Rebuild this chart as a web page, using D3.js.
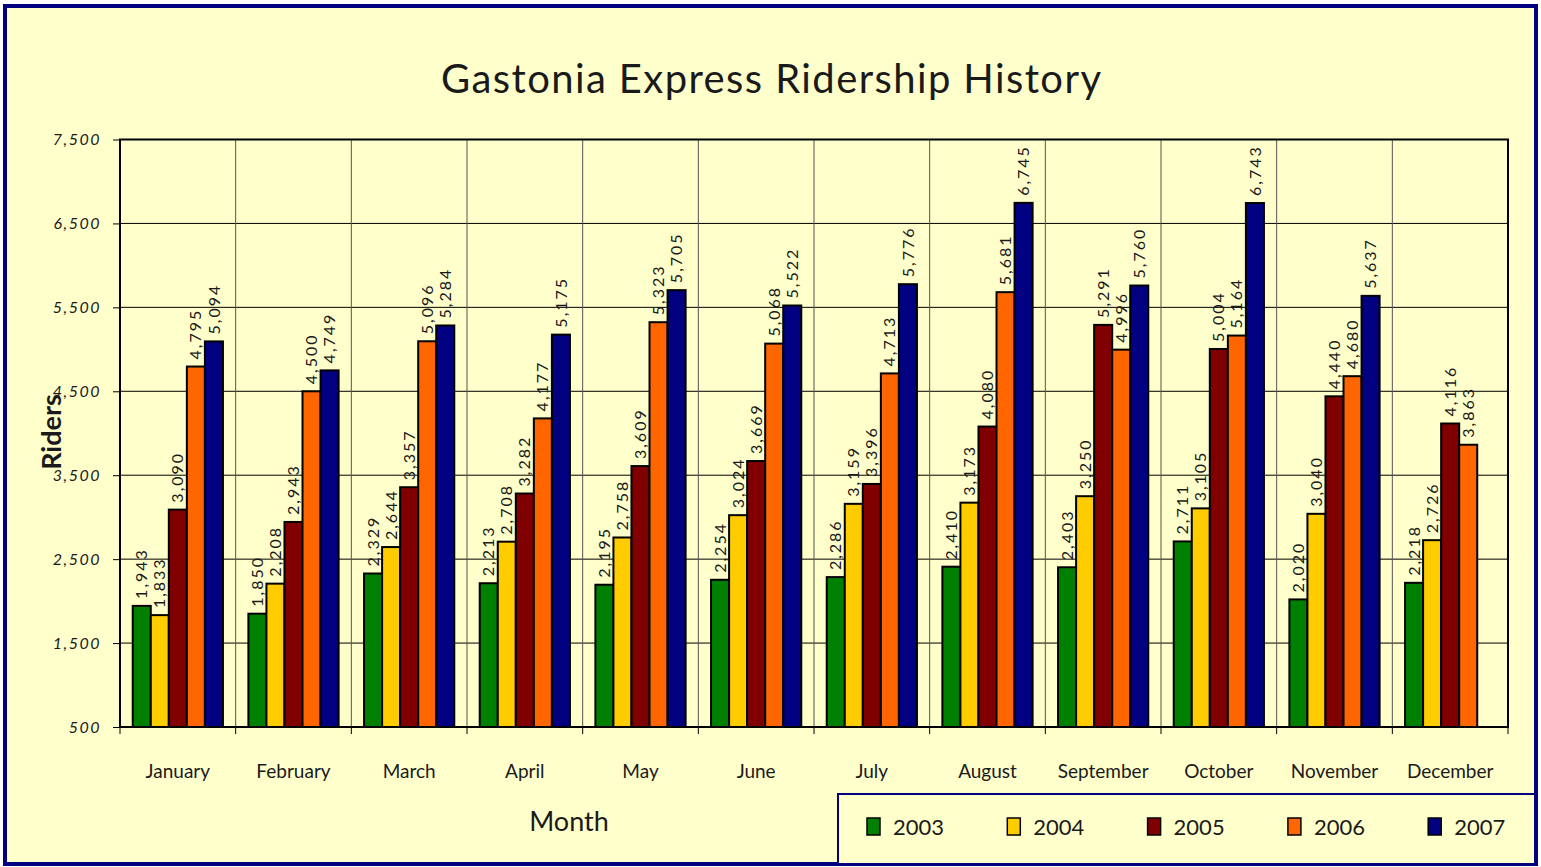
<!DOCTYPE html>
<html>
<head>
<meta charset="utf-8">
<script src="https://cdn.jsdelivr.net/npm/d3@7"></script>
<style>
  html, body { margin: 0; padding: 0; background: #ffffff; }
  svg { display: block; }
  text { font-family: Lato, "Open Sans", sans-serif; fill: #1a1a1a; }
</style>
</head>
<body>
<svg id="chart"></svg>
<script>
// DATA
const months = ["January", "February", "March", "April", "May", "June",
                "July", "August", "September", "October", "November", "December"];
const years = ["2003", "2004", "2005", "2006", "2007"];
const riders2003 = [1943, 1850, 2329, 2213, 2195, 2254, 2286, 2410, 2403, 2711, 2020, 2218];
const riders2004 = [1833, 2208, 2644, 2708, 2758, 3024, 3159, 3173, 3250, 3105, 3040, 2726];
const riders2005 = [3090, 2943, 3357, 3282, 3609, 3669, 3396, 4080, 5291, 5004, 4440, 4116];
const riders2006 = [4795, 4500, 5096, 4177, 5323, 5068, 4713, 5681, 4996, 5164, 4680, 3863];
const riders2007 = [5094, 4749, 5284, 5175, 5705, 5522, 5776, 6745, 5760, 6743, 5637, null];
const yTicks = [500, 1500, 2500, 3500, 4500, 5500, 6500, 7500];
const colors = ["#008000", "#ffcc00", "#800000", "#ff6600", "#000080"];

const series = [riders2003, riders2004, riders2005, riders2006, riders2007];

const W = 1541, H = 867;
const margin = { top: 139.5, right: 33, bottom: 140, left: 120 };
const width = 1508 - margin.left;
const height = 727 - margin.top;

const svg = d3.select('#chart').attr('width', W).attr('height', H);

// background + outer frame
svg.append('rect')
    .attr('x', 5).attr('y', 6).attr('width', 1531).attr('height', 858)
    .attr('fill', '#ffffcc').attr('stroke', '#000080').attr('stroke-width', 4);

// title
svg.append('text')
    .attr('x', 771).attr('y', 93)
    .attr('text-anchor', 'middle')
    .style('font-size', '40px')
    .attr('textLength', 660)
    .text('Gastonia Express Ridership History');

const g = svg.append('g')
    .attr('transform', `translate(${margin.left},${margin.top})`);

// SCALES
const x0 = d3.scaleBand()
    .domain(months)
    .range([0, width])
    .paddingInner(0.22)
    .paddingOuter(0.11);
const step = x0.step();

const x1 = d3.scaleBand()
    .domain(years)
    .range([0, x0.bandwidth()]);

const y = d3.scaleLinear()
    .domain([500, 7500])
    .range([height, 0]);

const color = d3.scaleOrdinal().domain(years).range(colors);

// horizontal gridlines
g.append('g')
    .selectAll('line')
    .data(yTicks)
    .enter().append('line')
    .attr('x1', 0).attr('x2', width)
    .attr('y1', d => y(d)).attr('y2', d => y(d))
    .attr('stroke', '#000').attr('stroke-width', 1);

// vertical category separators
g.append('g')
    .selectAll('line')
    .data(months.slice(1))
    .enter().append('line')
    .attr('x1', d => x0(d) - step * x0.paddingInner() / 2)
    .attr('x2', d => x0(d) - step * x0.paddingInner() / 2)
    .attr('y1', 0).attr('y2', height)
    .attr('stroke', '#555').attr('stroke-width', 1);

// y axis
const yAxis = g.append('g')
    .call(d3.axisLeft(y).tickValues(yTicks).tickFormat(d3.format(',')).tickSize(7).tickPadding(12));
yAxis.select('.domain').remove();
yAxis.selectAll('line').attr('stroke', '#000').attr('stroke-width', 1);
yAxis.selectAll('text')
    .style('font-size', '16px')
    .style('font-style', 'italic')
    .style('letter-spacing', '1.5px')
    .attr('fill', '#222');

// x axis: ticks at category boundaries, labels centered
const xAxisG = g.append('g').attr('transform', `translate(0,${height})`);
xAxisG.selectAll('line')
    .data(d3.range(months.length + 1))
    .enter().append('line')
    .attr('x1', i => i * step).attr('x2', i => i * step)
    .attr('y1', 0).attr('y2', 7)
    .attr('stroke', '#000');
xAxisG.selectAll('text')
    .data(months)
    .enter().append('text')
    .attr('x', d => x0(d) + x0.bandwidth() / 2)
    .attr('y', 51)
    .attr('text-anchor', 'middle')
    .style('font-size', '19px')
    .text(d => d);

// bars
const groups = g.selectAll('.month')
    .data(months)
    .enter().append('g')
    .attr('class', 'month')
    .attr('transform', d => `translate(${x0(d)},0)`);

groups.each(function(m, mi) {
    const grp = d3.select(this);
    const vals = years.map((yr, si) => ({ year: yr, value: series[si][mi] }))
        .filter(d => d.value != null);

    grp.selectAll('rect')
        .data(vals)
        .enter().append('rect')
        .attr('x', d => x1(d.year))
        .attr('y', d => y(d.value))
        .attr('width', x1.bandwidth())
        .attr('height', d => height - y(d.value))
        .attr('fill', d => color(d.year))
        .attr('stroke', '#000')
        .attr('stroke-width', 2);

    grp.selectAll('text')
        .data(vals)
        .enter().append('text')
        .attr('transform', d => `translate(${x1(d.year) + x1.bandwidth() / 2},${y(d.value) - 7}) rotate(-90)`)
        .attr('dy', '0.35em')
        .style('font-size', '16px')
        .style('letter-spacing', '2px')
        .attr('fill', '#333')
        .text(d => d3.format(',')(d.value));
});

// plot frame
g.append('rect')
    .attr('x', 0).attr('y', 0).attr('width', width).attr('height', height)
    .attr('fill', 'none').attr('stroke', '#000').attr('stroke-width', 2);

// axis titles
svg.append('text')
    .attr('x', 569).attr('y', 831)
    .attr('text-anchor', 'middle')
    .style('font-size', '27px')
    .text('Month');

svg.append('text')
    .attr('transform', 'translate(61,432) rotate(-90)')
    .attr('text-anchor', 'middle')
    .style('font-size', '27px')
    .style('font-weight', 'bold')
    .text('Riders');

// LEGEND
const legend = svg.append('g');
legend.append('rect')
    .attr('x', 838).attr('y', 794).attr('width', 697).attr('height', 70)
    .attr('fill', '#ffffcc').attr('stroke', '#000080').attr('stroke-width', 2);

const legendRow = legend.selectAll('.legend')
    .data(years)
    .enter().append('g')
    .attr('class', 'legend')
    .attr('transform', (d, i) => `translate(${867 + i * 140.3},818)`);

legendRow.append('rect')
    .attr('width', 13).attr('height', 17)
    .attr('fill', d => color(d))
    .attr('stroke', '#000').attr('stroke-width', 1.5);

legendRow.append('text')
    .attr('x', 26).attr('y', 17)
    .style('font-size', '22px')
    .text(d => d);
</script>
</body>
</html>
